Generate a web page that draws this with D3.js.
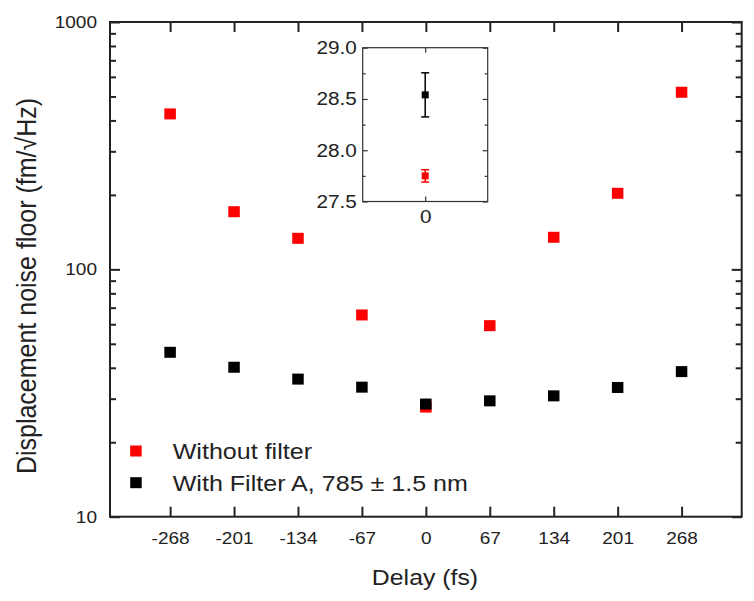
<!DOCTYPE html>
<html><head><meta charset="utf-8">
<script src="https://cdn.jsdelivr.net/npm/d3@7/dist/d3.min.js"></script>
<style>
body{margin:0;background:#fff;}
text{font-family:"Liberation Sans",Arial,sans-serif;fill:#222;}
</style></head>
<body><svg id="c" width="754" height="601"></svg>
<script>
const delays = [-268,-201,-134,-67,0,67,134,201,268];
const withoutFilter = [425,171,133.5,65.4,27.75,59.2,134.8,203,520];
const withFilterA = [46.2,40.2,36.0,33.4,28.54,29.4,30.8,33.3,38.6];
const yTicks = [10,100,1000];
const seriesNames = ["Without filter","With Filter A, 785 \u00b1 1.5 nm"];
const seriesColors = ["#ff0000","#000000"];
const insetMean = [27.75,28.54];
const insetErr = [0.06,0.215];
const insetYTicks = [27.5,28.0,28.5,29.0];

const STRETCH = 1.12;
function stretch(sel){
  sel.each(function(){
    const xx = +(this.getAttribute("x")||0);
    this.setAttribute("x", xx/STRETCH);
    const t = this.getAttribute("transform");
    this.setAttribute("transform", (t? t+" ":"") + `scale(${STRETCH},1)`);
  });
}

const svg = d3.select("#c");
const L=110,R=741.7,T=22,B=516.7;
const x = d3.scaleLinear().domain([-331,331]).range([L,R]);
const y = d3.scaleLog().domain([10,1000]).range([B,T]);

const minor = [];
for (let d=10; d<1000; d*=10) for (let k=2;k<=9;k++) minor.push(d*k);

const g = svg.append("g");
function drawAxis(gen, tr){
  const a = g.append("g").attr("transform",tr).call(gen);
  a.select(".domain").remove();
  a.selectAll("line").attr("stroke","#222").attr("stroke-width",2);
  return a;
}
const xb = drawAxis(d3.axisBottom(x).tickValues(delays).tickSize(-10).tickPadding(15).tickFormat(d=>String(d)), `translate(0,${B})`);
xb.selectAll("text").attr("font-size",17).call(stretch);
drawAxis(d3.axisTop(x).tickValues(delays).tickSize(-10).tickFormat(""), `translate(0,${T})`);
const yl = drawAxis(d3.axisLeft(y).tickValues(yTicks).tickSize(-10).tickPadding(13).tickFormat(d=>String(d)), `translate(${L},0)`);
yl.selectAll("text").attr("font-size",17).call(stretch);
drawAxis(d3.axisLeft(y).tickValues(minor).tickSize(-6).tickFormat(""), `translate(${L},0)`);
drawAxis(d3.axisRight(y).tickValues(yTicks).tickSize(-10).tickFormat(""), `translate(${R},0)`);
drawAxis(d3.axisRight(y).tickValues(minor).tickSize(-6).tickFormat(""), `translate(${R},0)`);
g.append("rect").attr("x",L).attr("y",T).attr("width",R-L).attr("height",B-T)
  .attr("fill","none").attr("stroke","#222").attr("stroke-width",2);

const series=[withoutFilter,withFilterA];
series.forEach((s,i)=>{
  g.append("g").selectAll("rect").data(s).join("rect")
    .attr("x",(d,j)=>x(delays[j])-5.75).attr("y",d=>y(d)-5.5)
    .attr("width",11.5).attr("height",11).attr("fill",seriesColors[i]);
});

// legend
const legY=[451,482.7], legBase=[459.3,491];
seriesNames.forEach((n,i)=>{
  g.append("rect").attr("x",130.2).attr("y",legY[i]-5.5).attr("width",11.5).attr("height",11).attr("fill",seriesColors[i]);
  g.append("text").attr("x",172.7).attr("y",legBase[i]).attr("font-size",22.4).text(n).call(stretch);
});

g.append("text").attr("x",425).attr("y",585.5).attr("text-anchor","middle").attr("font-size",22.2).text("Delay (fs)").call(stretch);
g.append("text").attr("transform","translate(35.5,286) rotate(-90) scale(1,1.12)").attr("text-anchor","middle").attr("font-size",25).text("Displacement noise floor (fm/\u221aHz)");

// inset
const iL=362.7,iR=487.7,iT=47.7,iB=201.5;
const ix = d3.scaleLinear().domain([-1,1]).range([iL,iR]);
const iy = d3.scaleLinear().domain([27.5,29.0]).range([iB,iT]);
const ig = svg.append("g");
const iminor = [27.75,28.25,28.75];
function drawI(gen,tr){
  const a = ig.append("g").attr("transform",tr).call(gen);
  a.select(".domain").remove();
  a.selectAll("line").attr("stroke","#333").attr("stroke-width",1.2);
  return a;
}
const il = drawI(d3.axisLeft(iy).tickValues(insetYTicks).tickSize(-5).tickPadding(6).tickFormat(d3.format(".1f")), `translate(${iL},0)`);
il.selectAll("text").attr("font-size",18.5).call(stretch);
drawI(d3.axisLeft(iy).tickValues(iminor).tickSize(-3).tickFormat(""), `translate(${iL},0)`);
drawI(d3.axisRight(iy).tickValues(insetYTicks).tickSize(-5).tickFormat(""), `translate(${iR},0)`);
drawI(d3.axisRight(iy).tickValues(iminor).tickSize(-3).tickFormat(""), `translate(${iR},0)`);
const ib = drawI(d3.axisBottom(ix).tickValues([0]).tickSize(-5).tickPadding(8.7).tickFormat(d=>String(d)), `translate(0,${iB})`);
ib.selectAll("text").attr("font-size",18.5).call(stretch);
drawI(d3.axisTop(ix).tickValues([0]).tickSize(-5).tickFormat(""), `translate(0,${iT})`);
ig.append("rect").attr("x",iL).attr("y",iT).attr("width",iR-iL).attr("height",iB-iT)
  .attr("fill","none").attr("stroke","#333").attr("stroke-width",1.2);
insetMean.forEach((m,i)=>{
  const c=seriesColors[i], cx=ix(0);
  const e=ig.append("g").attr("stroke",c).attr("stroke-width",1.5);
  e.append("line").attr("x1",cx).attr("x2",cx).attr("y1",iy(m-insetErr[i])).attr("y2",iy(m+insetErr[i]));
  [m-insetErr[i],m+insetErr[i]].forEach(v=>e.append("line").attr("x1",cx-4).attr("x2",cx+4).attr("y1",iy(v)).attr("y2",iy(v)));
  ig.append("rect").attr("x",cx-3.5).attr("y",iy(m)-3.5).attr("width",7).attr("height",7).attr("fill",c);
});
</script></body></html>
